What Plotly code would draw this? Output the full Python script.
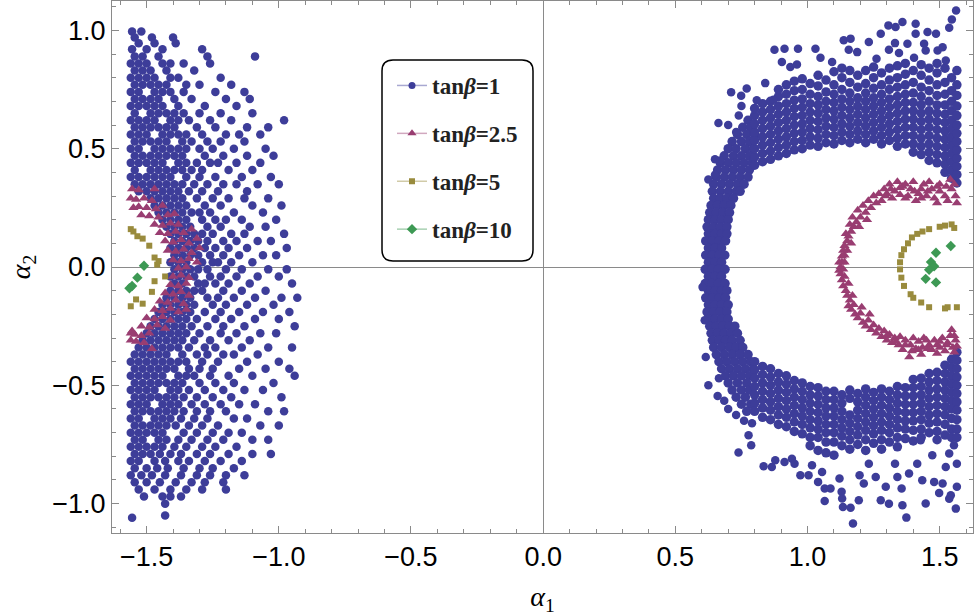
import plotly.graph_objects as go

# colours of the four series (old Mathematica default palette)
BLUE = "#3d3d99"
MAGENTA = "#993d71"
OLIVE = "#998b3d"
GREEN = "#3d9954"

legend_names = ["tan<i>β</i>=1", "tan<i>β</i>=2.5", "tan<i>β</i>=5", "tan<i>β</i>=10"]

# ---- tanβ=1, left cloud: rows of (alpha2, [alpha1 values]) ----
blue_left_rows = [
    (0.995, [-1.555, -1.52]),
    (0.97, [-1.545, -1.48, -1.40]),
    (0.945, [-1.53, -1.47, -1.39]),
    (0.92, [-1.555, -1.50, -1.44, -1.29]),
    (0.89, [-1.545, -1.515, -1.455, -1.27, -1.09]),
    (0.86, [-1.56, -1.53, -1.50, -1.44, -1.41, -1.36, -1.26]),
    (0.83, [-1.545, -1.515, -1.485, -1.425, -1.32]),
    (0.80, [-1.56, -1.53, -1.50, -1.47, -1.41, -1.38, -1.22]),
    (0.77, [-1.545, -1.515, -1.485, -1.455, -1.425, -1.35, -1.30, -1.18]),
    (0.74, [-1.56, -1.53, -1.47, -1.44, -1.41, -1.36, -1.24, -1.13]),
    (0.71, [-1.545, -1.515, -1.485, -1.455, -1.395, -1.33, -1.20, -1.11]),
    (0.68, [-1.56, -1.53, -1.50, -1.47, -1.44, -1.38, -1.28, -1.16]),
    (0.65, [-1.545, -1.485, -1.455, -1.425, -1.395, -1.36, -1.30, -1.22, -1.10]),
    (0.62, [-1.56, -1.53, -1.50, -1.47, -1.41, -1.38, -1.34, -1.26, -1.18, -0.98]),
    (0.59, [-1.545, -1.515, -1.485, -1.455, -1.425, -1.395, -1.31, -1.24, -1.12, -1.04]),
    (0.56, [-1.56, -1.53, -1.50, -1.44, -1.41, -1.38, -1.35, -1.29, -1.20, -1.15, -1.07]),
    (0.53, [-1.545, -1.515, -1.485, -1.455, -1.425, -1.365, -1.33, -1.27, -1.22, -1.13]),
    (0.50, [-1.56, -1.53, -1.47, -1.44, -1.41, -1.38, -1.35, -1.30, -1.25, -1.17, -1.05]),
    (0.47, [-1.545, -1.515, -1.485, -1.455, -1.425, -1.395, -1.365, -1.28, -1.21, -1.12, -1.02]),
    (0.44, [-1.56, -1.53, -1.50, -1.47, -1.44, -1.38, -1.35, -1.31, -1.26, -1.23, -1.16, -1.07]),
    (0.41, [-1.545, -1.485, -1.455, -1.425, -1.395, -1.365, -1.33, -1.29, -1.19, -1.10]),
    (0.38, [-1.56, -1.53, -1.50, -1.47, -1.44, -1.41, -1.35, -1.30, -1.24, -1.14, -1.03]),
    (0.35, [-1.545, -1.515, -1.485, -1.455, -1.425, -1.395, -1.365, -1.32, -1.27, -1.21, -1.16, -1.08, -1.00]),
    (0.32, [-1.53, -1.50, -1.47, -1.44, -1.41, -1.38, -1.34, -1.29, -1.23, -1.12]),
    (0.29, [-1.485, -1.455, -1.425, -1.395, -1.365, -1.31, -1.25, -1.19, -1.13, -1.04]),
    (0.26, [-1.47, -1.44, -1.41, -1.38, -1.35, -1.28, -1.22, -1.10, -0.99]),
    (0.23, [-1.455, -1.425, -1.395, -1.365, -1.33, -1.30, -1.26, -1.17, -1.06]),
    (0.20, [-1.44, -1.41, -1.38, -1.35, -1.29, -1.24, -1.20, -1.14, -1.01]),
    (0.17, [-1.425, -1.395, -1.365, -1.335, -1.27, -1.22, -1.11, -1.05]),
    (0.14, [-1.41, -1.38, -1.35, -1.32, -1.29, -1.25, -1.18, -1.13, -0.98]),
    (0.11, [-1.395, -1.365, -1.335, -1.305, -1.27, -1.21, -1.16, -1.08, -1.03]),
    (0.08, [-1.41, -1.38, -1.35, -1.32, -1.28, -1.24, -1.19, -1.12, -0.97]),
    (0.05, [-1.395, -1.365, -1.335, -1.305, -1.26, -1.21, -1.15, -1.06, -1.01]),
    (0.02, [-1.41, -1.38, -1.35, -1.29, -1.25, -1.23, -1.18, -1.10]),
    (-0.01, [-1.395, -1.365, -1.335, -1.305, -1.27, -1.20, -1.14, -1.04, -0.97]),
    (-0.04, [-1.41, -1.38, -1.35, -1.32, -1.26, -1.22, -1.16, -1.08, -1.00]),
    (-0.07, [-1.395, -1.365, -1.305, -1.28, -1.24, -1.19, -1.11, -0.95]),
    (-0.10, [-1.41, -1.38, -1.35, -1.32, -1.29, -1.21, -1.14, -1.05]),
    (-0.13, [-1.425, -1.395, -1.365, -1.335, -1.27, -1.23, -1.17, -1.09, -0.99, -0.93]),
    (-0.16, [-1.44, -1.41, -1.38, -1.35, -1.32, -1.25, -1.20, -1.12, -1.02]),
    (-0.19, [-1.455, -1.425, -1.395, -1.365, -1.335, -1.28, -1.22, -1.15, -1.06, -0.96]),
    (-0.22, [-1.47, -1.44, -1.41, -1.38, -1.35, -1.31, -1.24, -1.18, -1.09, -1.00]),
    (-0.25, [-1.485, -1.455, -1.425, -1.395, -1.365, -1.33, -1.27, -1.21, -1.13, -0.94]),
    (-0.28, [-1.50, -1.47, -1.44, -1.41, -1.38, -1.35, -1.30, -1.22, -1.16, -1.07, -1.01]),
    (-0.31, [-1.515, -1.485, -1.455, -1.425, -1.395, -1.365, -1.32, -1.26, -1.19, -1.11]),
    (-0.34, [-1.53, -1.50, -1.47, -1.44, -1.41, -1.38, -1.34, -1.28, -1.24, -1.14, -1.04, -0.95]),
    (-0.37, [-1.545, -1.515, -1.485, -1.455, -1.425, -1.365, -1.31, -1.27, -1.21, -1.17, -1.08]),
    (-0.40, [-1.56, -1.53, -1.50, -1.47, -1.44, -1.41, -1.38, -1.35, -1.29, -1.23, -1.12, -1.00]),
    (-0.43, [-1.545, -1.515, -1.485, -1.455, -1.425, -1.395, -1.34, -1.30, -1.25, -1.15, -1.05, -0.96]),
    (-0.46, [-1.56, -1.53, -1.50, -1.47, -1.44, -1.38, -1.35, -1.32, -1.26, -1.19, -1.10, -0.94]),
    (-0.49, [-1.545, -1.515, -1.485, -1.455, -1.425, -1.395, -1.365, -1.30, -1.24, -1.17, -1.02]),
    (-0.52, [-1.56, -1.53, -1.50, -1.47, -1.41, -1.38, -1.34, -1.28, -1.21, -1.13, -1.06]),
    (-0.55, [-1.545, -1.515, -1.485, -1.455, -1.425, -1.395, -1.36, -1.31, -1.25, -1.18, -0.99]),
    (-0.58, [-1.56, -1.53, -1.50, -1.44, -1.41, -1.38, -1.33, -1.28, -1.22, -1.15, -1.09]),
    (-0.61, [-1.545, -1.515, -1.485, -1.455, -1.425, -1.395, -1.36, -1.31, -1.26, -1.20, -1.04, -0.98]),
    (-0.64, [-1.56, -1.53, -1.47, -1.44, -1.41, -1.37, -1.32, -1.27, -1.17, -1.12]),
    (-0.67, [-1.545, -1.515, -1.485, -1.455, -1.425, -1.39, -1.34, -1.29, -1.23, -1.07, -1.00]),
    (-0.70, [-1.56, -1.53, -1.50, -1.47, -1.44, -1.36, -1.31, -1.25, -1.19, -1.14]),
    (-0.73, [-1.545, -1.515, -1.455, -1.425, -1.38, -1.33, -1.27, -1.21, -1.10, -1.04]),
    (-0.76, [-1.56, -1.53, -1.50, -1.47, -1.44, -1.395, -1.35, -1.29, -1.24, -1.16]),
    (-0.79, [-1.545, -1.515, -1.485, -1.45, -1.41, -1.37, -1.31, -1.26, -1.19, -1.10, -1.03]),
    (-0.82, [-1.56, -1.53, -1.47, -1.43, -1.38, -1.34, -1.28, -1.22, -1.14]),
    (-0.85, [-1.545, -1.50, -1.46, -1.42, -1.36, -1.30, -1.25, -1.17]),
    (-0.88, [-1.56, -1.52, -1.48, -1.43, -1.37, -1.31, -1.26, -1.20, -1.13]),
    (-0.91, [-1.545, -1.50, -1.45, -1.39, -1.33, -1.28, -1.21]),
    (-0.94, [-1.53, -1.47, -1.41, -1.35, -1.29, -1.20]),
    (-0.97, [-1.51, -1.44, -1.41, -1.37]),
    (-1.00, [-1.43]),
    (-1.05, [-1.43]),
    (-1.06, [-1.555]),
]

# ---- tanβ=1, right ring, left side: rows of (alpha2, [alpha1 values]) ----
blue_ring_rows = [
    (0.62, [0.775]),
    (0.59, [0.755, 0.785]),
    (0.56, [0.735, 0.77, 0.80]),
    (0.53, [0.715, 0.75, 0.78]),
    (0.50, [0.70, 0.73, 0.765, 0.795]),
    (0.47, [0.685, 0.72, 0.75, 0.78]),
    (0.44, [0.67, 0.70, 0.73, 0.76, 0.79]),
    (0.41, [0.66, 0.69, 0.72, 0.75, 0.78]),
    (0.38, [0.655, 0.685, 0.715, 0.745, 0.775]),
    (0.35, [0.645, 0.675, 0.705, 0.735, 0.76]),
    (0.32, [0.64, 0.67, 0.70, 0.73, 0.745]),
    (0.29, [0.645, 0.67, 0.695, 0.72]),
    (0.26, [0.635, 0.66, 0.685, 0.71]),
    (0.23, [0.63, 0.655, 0.68, 0.705]),
    (0.20, [0.625, 0.65, 0.675, 0.70]),
    (0.17, [0.62, 0.645, 0.67, 0.695]),
    (0.14, [0.625, 0.65, 0.675, 0.695]),
    (0.11, [0.615, 0.64, 0.665, 0.69]),
    (0.08, [0.625, 0.65, 0.675]),
    (0.05, [0.615, 0.64, 0.665, 0.687]),
    (0.02, [0.625, 0.65, 0.675]),
    (-0.01, [0.613, 0.638, 0.663, 0.688]),
    (-0.04, [0.625, 0.65, 0.675]),
    (-0.07, [0.613, 0.638, 0.663, 0.688]),
    (-0.10, [0.625, 0.65, 0.675, 0.695]),
    (-0.13, [0.615, 0.64, 0.665, 0.69]),
    (-0.16, [0.625, 0.65, 0.675, 0.70]),
    (-0.19, [0.62, 0.645, 0.67, 0.695]),
    (-0.22, [0.625, 0.65, 0.675, 0.70]),
    (-0.25, [0.63, 0.655, 0.68, 0.705, 0.725]),
    (-0.28, [0.635, 0.66, 0.685, 0.71, 0.735]),
    (-0.31, [0.64, 0.665, 0.69, 0.715, 0.745]),
    (-0.34, [0.645, 0.675, 0.705, 0.73, 0.755]),
    (-0.37, [0.655, 0.685, 0.715, 0.745, 0.775]),
    (-0.40, [0.665, 0.695, 0.725, 0.755, 0.785]),
    (-0.43, [0.675, 0.705, 0.735, 0.765, 0.795]),
    (-0.46, [0.69, 0.72, 0.75, 0.78]),
    (-0.49, [0.70, 0.735, 0.77]),
    (-0.52, [0.715, 0.75, 0.78]),
    (-0.55, [0.73, 0.765]),
    (-0.58, [0.75, 0.785]),
    (-0.61, [0.77]),
]

# ---- tanβ=1, right ring, upper arc: columns of (alpha1, [alpha2 values]) ----
blue_upper_cols = [
    (0.800, [0.43, 0.465, 0.50, 0.535, 0.57, 0.605, 0.64, 0.67]),
    (0.830, [0.445, 0.48, 0.515, 0.55, 0.585, 0.62, 0.655, 0.69]),
    (0.860, [0.455, 0.49, 0.525, 0.56, 0.595, 0.63, 0.665, 0.70]),
    (0.890, [0.47, 0.505, 0.54, 0.575, 0.61, 0.645, 0.68, 0.72, 0.75]),
    (0.920, [0.48, 0.515, 0.55, 0.585, 0.62, 0.655, 0.69, 0.73, 0.77]),
    (0.950, [0.495, 0.53, 0.565, 0.60, 0.635, 0.67, 0.705, 0.745, 0.785]),
    (0.980, [0.50, 0.535, 0.57, 0.605, 0.64, 0.675, 0.71, 0.75, 0.795]),
    (1.010, [0.515, 0.55, 0.585, 0.62, 0.655, 0.69, 0.73, 0.775]),
    (1.040, [0.51, 0.545, 0.58, 0.615, 0.65, 0.685, 0.72, 0.765, 0.81]),
    (1.070, [0.525, 0.56, 0.595, 0.63, 0.665, 0.70, 0.74, 0.79]),
    (1.100, [0.52, 0.555, 0.59, 0.625, 0.66, 0.695, 0.73, 0.77, 0.825]),
    (1.130, [0.535, 0.57, 0.605, 0.64, 0.675, 0.71, 0.75, 0.80, 0.84]),
    (1.160, [0.525, 0.56, 0.595, 0.63, 0.665, 0.70, 0.735, 0.78, 0.83]),
    (1.190, [0.54, 0.575, 0.61, 0.645, 0.68, 0.715, 0.76, 0.81]),
    (1.220, [0.525, 0.56, 0.595, 0.63, 0.665, 0.70, 0.735, 0.775, 0.83]),
    (1.250, [0.54, 0.575, 0.61, 0.645, 0.68, 0.715, 0.755, 0.80, 0.845]),
    (1.280, [0.52, 0.555, 0.59, 0.625, 0.66, 0.695, 0.73, 0.77, 0.82]),
    (1.310, [0.535, 0.57, 0.605, 0.64, 0.675, 0.71, 0.75, 0.79, 0.84]),
    (1.340, [0.51, 0.545, 0.58, 0.615, 0.65, 0.685, 0.72, 0.76, 0.80, 0.85]),
    (1.370, [0.52, 0.555, 0.59, 0.625, 0.66, 0.695, 0.73, 0.77, 0.815, 0.86]),
    (1.400, [0.485, 0.52, 0.555, 0.59, 0.625, 0.66, 0.695, 0.735, 0.78, 0.83]),
    (1.430, [0.475, 0.51, 0.545, 0.58, 0.615, 0.65, 0.685, 0.72, 0.76, 0.81, 0.855]),
    (1.460, [0.45, 0.485, 0.52, 0.555, 0.59, 0.625, 0.66, 0.70, 0.745, 0.79, 0.84]),
    (1.490, [0.44, 0.475, 0.51, 0.545, 0.58, 0.615, 0.65, 0.685, 0.725, 0.77, 0.82, 0.86]),
    (1.520, [0.40, 0.435, 0.47, 0.505, 0.54, 0.575, 0.61, 0.645, 0.685, 0.73, 0.78, 0.84]),
    (1.545, [0.375, 0.41, 0.445, 0.48, 0.515, 0.55, 0.585, 0.62, 0.66, 0.70, 0.745, 0.80]),
    (1.565, [0.355, 0.39, 0.425, 0.46, 0.495, 0.53, 0.565, 0.60, 0.64, 0.68, 0.725, 0.77, 0.83]),
]

# ---- tanβ=1, right ring, lower arc: columns of (alpha1, [alpha2 values]) ----
blue_lower_cols = [
    (0.800, [-0.40, -0.435, -0.47, -0.505, -0.54, -0.575, -0.61]),
    (0.830, [-0.42, -0.455, -0.49, -0.525, -0.56, -0.595, -0.635]),
    (0.860, [-0.43, -0.465, -0.50, -0.535, -0.57, -0.605, -0.645]),
    (0.890, [-0.45, -0.485, -0.52, -0.555, -0.59, -0.625, -0.665]),
    (0.920, [-0.46, -0.495, -0.53, -0.565, -0.60, -0.635, -0.675]),
    (0.950, [-0.48, -0.515, -0.55, -0.585, -0.62, -0.655, -0.695]),
    (0.980, [-0.49, -0.525, -0.56, -0.595, -0.63, -0.665, -0.705]),
    (1.010, [-0.505, -0.54, -0.575, -0.61, -0.645, -0.68, -0.72, -0.755]),
    (1.040, [-0.51, -0.545, -0.58, -0.615, -0.65, -0.685, -0.72, -0.775]),
    (1.070, [-0.525, -0.56, -0.595, -0.63, -0.665, -0.70, -0.74, -0.785]),
    (1.100, [-0.525, -0.56, -0.595, -0.63, -0.665, -0.70, -0.74, -0.795]),
    (1.130, [-0.54, -0.575, -0.61, -0.645, -0.68, -0.715, -0.755]),
    (1.160, [-0.52, -0.555, -0.625, -0.66, -0.695, -0.73, -0.77]),
    (1.190, [-0.535, -0.57, -0.605, -0.64, -0.675, -0.71, -0.75]),
    (1.220, [-0.515, -0.55, -0.585, -0.62, -0.655, -0.69, -0.73, -0.775]),
    (1.250, [-0.53, -0.565, -0.60, -0.635, -0.67, -0.705, -0.745]),
    (1.280, [-0.515, -0.55, -0.585, -0.62, -0.655, -0.69, -0.73, -0.77]),
    (1.310, [-0.525, -0.56, -0.595, -0.63, -0.665, -0.70, -0.74]),
    (1.340, [-0.505, -0.54, -0.575, -0.61, -0.645, -0.68, -0.72, -0.76]),
    (1.370, [-0.51, -0.545, -0.58, -0.615, -0.65, -0.685, -0.725]),
    (1.400, [-0.475, -0.51, -0.545, -0.58, -0.615, -0.65, -0.69, -0.735]),
    (1.430, [-0.47, -0.505, -0.54, -0.575, -0.61, -0.645, -0.685, -0.72]),
    (1.460, [-0.45, -0.485, -0.52, -0.555, -0.59, -0.625, -0.66, -0.70]),
    (1.490, [-0.445, -0.48, -0.515, -0.55, -0.585, -0.62, -0.655, -0.695, -0.73]),
    (1.520, [-0.415, -0.45, -0.485, -0.52, -0.555, -0.59, -0.625, -0.665, -0.71]),
    (1.545, [-0.39, -0.425, -0.46, -0.495, -0.53, -0.565, -0.60, -0.64, -0.685, -0.72]),
    (1.565, [-0.36, -0.395, -0.43, -0.465, -0.50, -0.535, -0.57, -0.605, -0.645, -0.685, -0.72]),
]

# ---- tanβ=1, loose points around the ring: (alpha1, alpha2) ----
blue_ring_loose = [
    (0.625, 0.37), (0.65, 0.39), (0.67, 0.45), (0.65, 0.455), (0.663, 0.608),
    (0.70, 0.60), (0.73, 0.57), (0.74, 0.64), (0.75, 0.68), (0.711, 0.738),
    (0.749, 0.724), (0.77, 0.754), (0.808, 0.705), (0.84, 0.777), (0.871, 0.707),
    (0.875, 0.918), (0.913, 0.922), (0.964, 0.922), (0.903, 0.866), (0.935, 0.845),
    (0.96, 0.856), (1.03, 0.922), (1.049, 0.884), (1.093, 0.866), (1.137, 0.958),
    (1.163, 0.965), (1.156, 0.918), (1.188, 0.908), (1.232, 0.951), (1.261, 0.88),
    (1.277, 0.986), (1.308, 0.918), (1.306, 1.021), (1.333, 1.014), (1.359, 1.035),
    (1.331, 0.946), (1.346, 0.904), (1.378, 0.943), (1.409, 1.028), (1.409, 0.986),
    (1.403, 0.884), (1.441, 0.943), (1.454, 0.993), (1.486, 0.986), (1.447, 0.915),
    (1.492, 0.915), (1.511, 0.929), (1.536, 1.011), (1.546, 1.046), (1.562, 1.084),
    (1.523, 0.873), (0.603, -0.085), (0.611, -0.225), (0.615, -0.38), (0.625, -0.50),
    (0.66, -0.545), (0.685, -0.565), (0.665, -0.47), (0.70, -0.60), (0.73, -0.625),
    (0.76, -0.65), (0.79, -0.66), (0.739, -0.784), (0.777, -0.711), (0.787, -0.753),
    (0.834, -0.842), (0.865, -0.845), (0.878, -0.817), (0.913, -0.824), (0.941, -0.81),
    (0.951, -0.831), (0.973, -0.88), (1.004, -0.88), (1.017, -0.838), (1.04, -0.908),
    (1.055, -0.866), (1.065, -0.936), (1.087, -0.936), (1.065, -0.989), (1.121, -0.894),
    (1.129, -0.95), (1.131, -0.978), (1.134, -1.014), (1.163, -1.017), (1.172, -1.084),
    (1.194, -0.986), (1.197, -0.88), (1.213, -0.915), (1.232, -0.831), (1.258, -0.887),
    (1.277, -0.986), (1.296, -0.929), (1.308, -1.0), (1.331, -0.831), (1.34, -0.887),
    (1.356, -0.936), (1.359, -1.007), (1.374, -1.059), (1.384, -0.873), (1.415, -0.831),
    (1.434, -0.901), (1.447, -0.999), (1.479, -0.908), (1.498, -0.955), (1.511, -0.915),
    (1.523, -0.845), (1.536, -0.979), (1.542, -0.964), (1.561, -1.021), (1.565, -0.929),
    (1.565, -0.831), (1.554, -0.753), (1.536, -0.788), (1.472, -0.795), (1.428, -0.732),
]

# ---- tanβ=2.5 : (alpha1, alpha2) ----
magenta_pts = [
    (-1.555, 0.33), (-1.53, 0.325), (-1.47, 0.33), (-1.56, 0.29), (-1.54, 0.285),
    (-1.51, 0.29), (-1.48, 0.28), (-1.55, 0.25), (-1.53, 0.255), (-1.50, 0.25),
    (-1.465, 0.245), (-1.44, 0.26), (-1.52, 0.22), (-1.49, 0.215), (-1.455, 0.21),
    (-1.42, 0.22), (-1.395, 0.225), (-1.47, 0.18), (-1.44, 0.175), (-1.41, 0.185),
    (-1.38, 0.18), (-1.45, 0.145), (-1.42, 0.14), (-1.39, 0.15), (-1.36, 0.145),
    (-1.33, 0.16), (-1.43, 0.11), (-1.40, 0.105), (-1.37, 0.115), (-1.34, 0.10),
    (-1.31, 0.12), (-1.42, 0.07), (-1.39, 0.065), (-1.36, 0.075), (-1.33, 0.06),
    (-1.30, 0.08), (-1.40, 0.03), (-1.37, 0.025), (-1.34, 0.035), (-1.31, 0.02),
    (-1.38, -0.005), (-1.35, 0.0), (-1.40, -0.04), (-1.37, -0.035), (-1.34, -0.045),
    (-1.41, -0.075), (-1.38, -0.08), (-1.35, -0.07), (-1.43, -0.11), (-1.40, -0.115),
    (-1.37, -0.105), (-1.34, -0.12), (-1.45, -0.145), (-1.42, -0.15), (-1.39, -0.14),
    (-1.36, -0.155), (-1.47, -0.18), (-1.44, -0.185), (-1.41, -0.175), (-1.38, -0.19),
    (-1.35, -0.18), (-1.50, -0.215), (-1.47, -0.22), (-1.44, -0.21), (-1.41, -0.225),
    (-1.52, -0.25), (-1.49, -0.255), (-1.46, -0.245), (-1.43, -0.26), (-1.545, -0.285),
    (-1.52, -0.29), (-1.49, -0.28), (-1.56, -0.31), (-1.54, -0.315), (-1.51, -0.32),
    (-1.555, -0.27), (-1.48, -0.345), (-1.56, -0.28),
    (1.565, 0.27), (1.56, 0.30), (1.545, 0.33), (1.54, 0.37), (1.52, 0.30),
    (1.50, 0.32), (1.48, 0.29), (1.47, 0.33), (1.45, 0.30), (1.44, 0.35),
    (1.42, 0.31), (1.41, 0.28), (1.39, 0.33), (1.38, 0.30), (1.36, 0.34),
    (1.35, 0.305), (1.33, 0.32), (1.32, 0.29), (1.31, 0.35), (1.30, 0.31),
    (1.29, 0.33), (1.28, 0.28), (1.27, 0.31), (1.50, 0.35), (1.53, 0.28),
    (1.46, 0.36), (1.40, 0.36), (1.34, 0.36), (1.26, 0.27), (1.25, 0.30),
    (1.555, 0.35), (1.525, 0.34), (1.49, 0.34), (1.455, 0.32), (1.43, 0.33),
    (1.405, 0.32), (1.37, 0.35), (1.35, 0.335), (1.315, 0.33), (1.295, 0.30),
    (1.37, 0.29), (1.43, 0.29), (1.49, 0.27),
    (1.24, 0.25), (1.23, 0.28), (1.22, 0.23), (1.21, 0.26), (1.20, 0.21),
    (1.19, 0.24), (1.185, 0.19), (1.175, 0.17), (1.17, 0.21), (1.165, 0.15),
    (1.16, 0.18), (1.155, 0.13), (1.15, 0.11), (1.145, 0.14), (1.14, 0.09),
    (1.135, 0.07), (1.13, 0.045), (1.14, 0.05), (1.13, 0.02), (1.125, 0.0),
    (1.12, 0.02), (1.12, -0.015), (1.14, 0.02), (1.15, 0.07), (1.155, -0.07),
    (1.165, 0.10), (1.17, -0.12), (1.195, 0.17), (1.205, -0.17), (1.225, 0.20),
    (1.235, -0.20),
    (1.135, -0.01), (1.125, -0.03), (1.13, -0.055), (1.14, -0.04), (1.135, -0.08),
    (1.145, -0.10), (1.15, -0.12), (1.16, -0.14), (1.155, -0.165), (1.165, -0.18),
    (1.175, -0.16), (1.18, -0.20), (1.19, -0.215), (1.20, -0.195), (1.21, -0.235),
    (1.22, -0.25), (1.23, -0.225), (1.24, -0.265), (1.25, -0.245), (1.26, -0.28),
    (1.27, -0.26), (1.28, -0.295), (1.29, -0.27), (1.30, -0.31), (1.31, -0.285),
    (1.32, -0.32), (1.33, -0.30), (1.345, -0.33), (1.35, -0.295), (1.36, -0.35),
    (1.37, -0.31), (1.385, -0.38), (1.39, -0.33), (1.40, -0.30), (1.41, -0.345),
    (1.42, -0.315), (1.435, -0.34), (1.44, -0.30), (1.46, -0.33), (1.47, -0.35),
    (1.48, -0.31), (1.50, -0.34), (1.51, -0.30), (1.52, -0.355), (1.53, -0.32),
    (1.54, -0.29), (1.55, -0.34), (1.56, -0.31), (1.565, -0.335), (1.545, -0.265),
    (1.49, -0.365), (1.43, -0.37),
    (1.555, -0.36), (1.525, -0.33), (1.49, -0.33), (1.455, -0.345), (1.42, -0.35),
    (1.395, -0.355), (1.37, -0.33), (1.335, -0.315), (1.30, -0.29), (1.45, -0.31),
    (1.50, -0.315), (1.555, -0.29),
]

# ---- tanβ=5 : (alpha1, alpha2) ----
olive_pts = [
    (-1.56, 0.16), (-1.55, 0.15), (-1.535, 0.13), (-1.515, 0.12), (-1.49, 0.09),
    (-1.47, 0.04), (-1.46, 0.01), (-1.455, 0.025), (-1.43, -0.04), (-1.47, -0.06),
    (-1.48, -0.105), (-1.515, -0.155), (-1.54, -0.137), (-1.56, -0.166),
    (1.545, 0.18), (1.52, 0.175), (1.50, 0.17), (1.46, 0.16), (1.435, 0.15),
    (1.415, 0.14), (1.395, 0.125), (1.38, 0.10), (1.365, 0.075), (1.355, 0.05),
    (1.35, 0.02), (1.35, -0.01), (1.355, -0.045), (1.365, -0.08), (1.39, -0.115),
    (1.40, -0.13), (1.43, -0.15), (1.46, -0.17), (1.52, -0.175), (1.53, -0.17),
    (1.565, -0.17), (1.555, 0.165),
]

# ---- tanβ=10 : (alpha1, alpha2) ----
green_pts = [
    (-1.51, 0.005), (-1.535, -0.045), (-1.555, -0.08), (-1.565, -0.09),
    (1.542, 0.089), (1.486, 0.06), (1.467, 0.021), (1.479, 0.003), (1.46, -0.012),
    (1.447, -0.05), (1.486, -0.065),
]


def from_rows(rows):
    xs, ys = [], []
    for y, xvals in rows:
        for x in xvals:
            xs.append(x)
            ys.append(y)
    return xs, ys


def from_cols(cols):
    xs, ys = [], []
    for x, yvals in cols:
        for y in yvals:
            xs.append(x)
            ys.append(y)
    return xs, ys


def from_pairs(pts):
    return [p[0] for p in pts], [p[1] for p in pts]


def join(*parts):
    xs, ys = [], []
    for px_, py_ in parts:
        xs += px_
        ys += py_
    return xs, ys


# the packed band of the ring is drawn with slightly larger dots so it reads as solid
cx, cy = join(from_rows(blue_ring_rows), from_cols(blue_upper_cols), from_cols(blue_lower_cols))
lx, ly = join(from_rows(blue_left_rows), from_pairs(blue_ring_loose))
mx, my = from_pairs(magenta_pts)
ox, oy = from_pairs(olive_pts)
gx, gy = from_pairs(green_pts)

fig = go.Figure()
fig.add_trace(go.Scatter(x=cx, y=cy, mode="markers", showlegend=False,
                         marker=dict(symbol="circle", size=9.5, color=BLUE)))
fig.add_trace(go.Scatter(x=lx, y=ly, mode="markers", showlegend=False,
                         marker=dict(symbol="circle", size=8.5, color=BLUE)))
fig.add_trace(go.Scatter(x=mx, y=my, mode="markers", showlegend=False,
                         marker=dict(symbol="triangle-up", size=9, color=MAGENTA)))
fig.add_trace(go.Scatter(x=ox, y=oy, mode="markers", showlegend=False,
                         marker=dict(symbol="square", size=6, color=OLIVE)))
fig.add_trace(go.Scatter(x=gx, y=gy, mode="markers", showlegend=False,
                         marker=dict(symbol="diamond", size=8, color=GREEN)))

# legend entries (line + marker, like the original)
leg_style = [("circle", 7, BLUE, "rgba(61,61,153,0.45)"),
             ("triangle-up", 8, MAGENTA, "rgba(153,61,113,0.45)"),
             ("square", 6, OLIVE, "rgba(153,139,61,0.45)"),
             ("diamond", 8, GREEN, "rgba(61,153,84,0.45)")]
for i, (name, (sym, sz, col, lcol)) in enumerate(zip(legend_names, leg_style)):
    fig.add_trace(go.Scatter(x=[None], y=[None], mode="lines+markers", name=name,
                             legendgroup=f"g{i}",
                             marker=dict(symbol=sym, size=sz, color=col),
                             line=dict(color=lcol, width=1.5)))

# page geometry in pixels
W, H = 975, 616
ML, MR, MT, MB = 112, 2, 1, 83
PW, PH = W - ML - MR, H - MT - MB


def paper_x(p):
    return (p - ML) / PW


def paper_y(p):
    return (H - MB - p) / PH


# rounded legend frame
x0, x1, y0, y1, r = 382, 533, 60, 261, 11
box = (f"M {paper_x(x0 + r)},{paper_y(y0)} L {paper_x(x1 - r)},{paper_y(y0)} "
       f"Q {paper_x(x1)},{paper_y(y0)} {paper_x(x1)},{paper_y(y0 + r)} "
       f"L {paper_x(x1)},{paper_y(y1 - r)} "
       f"Q {paper_x(x1)},{paper_y(y1)} {paper_x(x1 - r)},{paper_y(y1)} "
       f"L {paper_x(x0 + r)},{paper_y(y1)} "
       f"Q {paper_x(x0)},{paper_y(y1)} {paper_x(x0)},{paper_y(y1 - r)} "
       f"L {paper_x(x0)},{paper_y(y0 + r)} "
       f"Q {paper_x(x0)},{paper_y(y0)} {paper_x(x0 + r)},{paper_y(y0)} Z")
fig.add_shape(type="path", path=box, xref="paper", yref="paper",
              line=dict(color="black", width=1.5), fillcolor="white", layer="below")

axis_common = dict(
    automargin=False,
    showgrid=False, showline=True, mirror="ticks", linecolor="#8a8a8a", linewidth=1,
    ticks="inside", ticklen=7, tickcolor="#8a8a8a", tickwidth=1,
    zeroline=True, zerolinecolor="#8a8a8a", zerolinewidth=1,
    tickfont=dict(family="Liberation Sans", size=27, color="black"),
    minor=dict(dtick=0.1, ticks="inside", ticklen=4, tickcolor="#8a8a8a"),
    layer="above traces", dtick=0.5, tick0=0, tickformat=".1f",
)

fig.update_layout(
    width=W, height=H,
    margin=dict(l=ML, r=MR, t=MT, b=MB, autoexpand=False),
    plot_bgcolor="rgba(0,0,0,0)", paper_bgcolor="white",
    xaxis=dict(range=[-1.631, 1.626], **axis_common,
               title=dict(text="<i>α</i><sub>1</sub>", standoff=17,
                          font=dict(family="Liberation Serif", size=28, color="black"))),
    yaxis=dict(range=[-1.124, 1.124], **axis_common,
               title=dict(text="<i>α</i><sub>2</sub>", standoff=13,
                          font=dict(family="Liberation Serif", size=28, color="black"))),
    legend=dict(x=paper_x(392), y=paper_y(64), xanchor="left", yanchor="top",
                bgcolor="rgba(0,0,0,0)", borderwidth=0, tracegroupgap=15,
                font=dict(family="Liberation Serif", size=23, color="#222222", weight="bold")),
)

# the page body has a default 8px margin; remove it so the figure sits at the corner
fig.write_html("out.html", config={"displayModeBar": False},
               post_script="document.body.style.margin='0px';")
